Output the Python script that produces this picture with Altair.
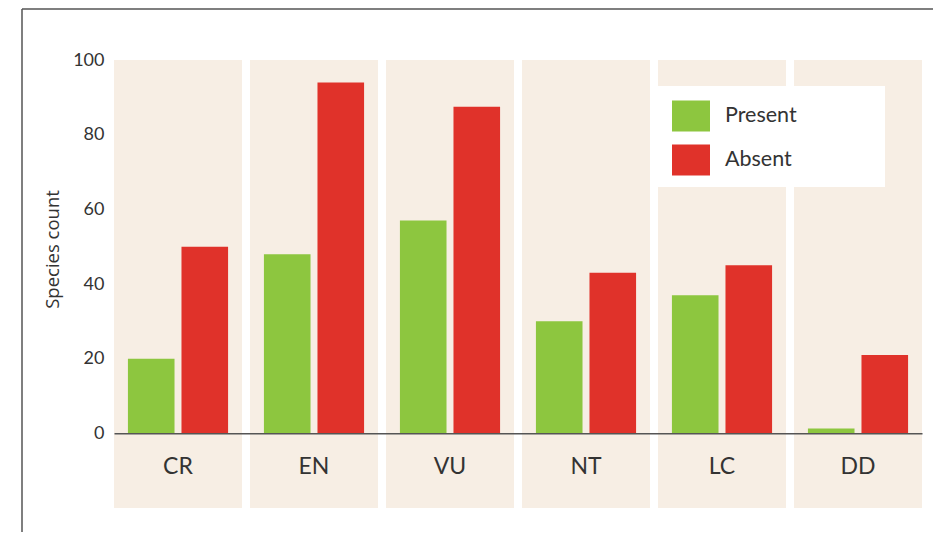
import altair as alt
import pandas as pd

categories = ["CR", "EN", "VU", "NT", "LC", "DD"]
statuses = ["Present", "Absent"]
present = [20, 48, 57, 30, 37, 1.3]
absent = [50, 94, 87.5, 43, 45, 21]
colors = ["#8DC63F", "#E0322A"]
y_ticks = [0, 20, 40, 60, 80, 100]

rows = []
for c, p, a in zip(categories, present, absent):
    rows.append({"category": c, "status": "Present", "count": p})
    rows.append({"category": c, "status": "Absent", "count": a})
df = pd.DataFrame(rows)
bands = pd.DataFrame({"category": categories, "top": [100] * 6, "bottom": [-20] * 6})
one = pd.DataFrame({"k": [0]})

W, H = 808, 448
FONT = "Lato"
AXFONT = "Open Sans"
TXT = "#333333"

xscale = alt.Scale(domain=categories, paddingInner=0.0588, paddingOuter=0)
yscale = alt.Scale(domain=[-20, 100], nice=False, zero=False)
x_axis = alt.Axis(title=None, orient="bottom", offset=-74.7, domainColor="#555555",
                  domainWidth=1.5, ticks=False, labelFontSize=23, labelPadding=33,
                  labelBaseline="middle", labelAngle=0, labelColor=TXT, labelFont=FONT)
y_axis = alt.Axis(values=y_ticks, title="Species count", grid=False, domain=False,
                  ticks=False, labelFontSize=18, labelPadding=10, labelColor=TXT,
                  labelFont=FONT, titleFont=AXFONT, titleFontSize=18.5,
                  titleFontWeight="normal", titleColor=TXT, titleX=-62, titleY=189,
                  titleBaseline="middle", titleAlign="center")

bg = alt.Chart(bands).mark_rect(color="#F7EEE4").encode(
    x=alt.X("category:N", scale=xscale, sort=categories, axis=x_axis),
    y=alt.Y("top:Q", scale=yscale, axis=y_axis, title="Species count"),
    y2="bottom:Q",
)

legend_box = alt.Chart(one).mark_rect(color="white").encode(
    x=alt.value(543), x2=alt.value(771), y=alt.value(26), y2=alt.value(127)
)

bars = alt.Chart(df).mark_bar().encode(
    x=alt.X("category:N", scale=xscale, sort=categories, axis=x_axis),
    xOffset=alt.XOffset("status:N", sort=statuses,
                        scale=alt.Scale(paddingInner=0.13, paddingOuter=0.26)),
    y=alt.Y("count:Q", scale=yscale, axis=y_axis, stack=None, title="Species count"),
    color=alt.Color("status:N", sort=statuses,
                    scale=alt.Scale(domain=statuses, range=colors),
                    legend=alt.Legend(title=None, orient="none", legendX=558, legendY=37,
                                      symbolType="M-1,-0.816H1V0.816H-1Z",
                                      symbolSize=1444, symbolStrokeWidth=0,
                                      symbolOpacity=1, labelFontSize=21.5, labelOffset=15,
                                      rowPadding=9, labelColor=TXT, labelFont=FONT,
                                      padding=0)),
)

frame_v = alt.Chart(one).mark_rule(color="#555555", strokeWidth=1.5).encode(
    x=alt.value(-92), y=alt.value(-51), y2=alt.value(H + 40)
)
frame_h = alt.Chart(one).mark_rule(color="#555555", strokeWidth=1.5).encode(
    x=alt.value(-92), x2=alt.value(W + 30), y=alt.value(-51)
)

chart = alt.layer(bg, legend_box, bars, frame_v, frame_h).properties(
    width=W, height=H,
    autosize=alt.AutoSizeParams(type="none"),
    padding={"left": 106, "top": 52, "right": 11, "bottom": 24},
).configure_view(stroke=None)

chart.save("out.html", embed_options={"renderer": "svg", "actions": False})
